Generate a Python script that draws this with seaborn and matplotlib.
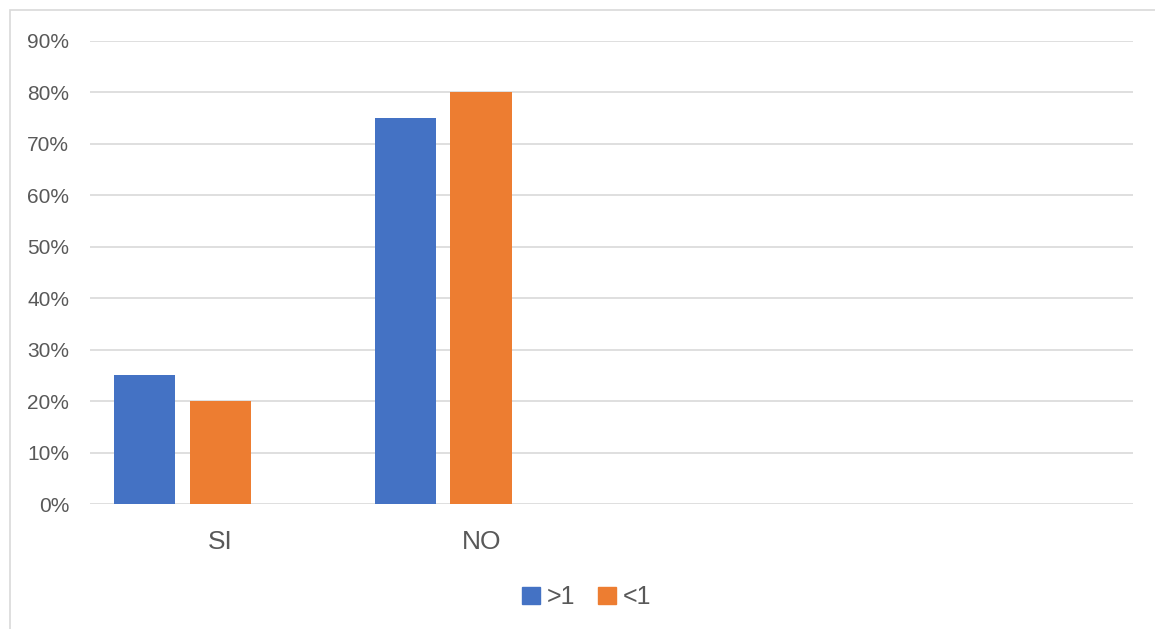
import pandas as pd
import matplotlib
matplotlib.use("Agg")
import matplotlib.pyplot as plt
import matplotlib.patches as mpatches
from matplotlib.ticker import PercentFormatter
import seaborn as sns

# Chart data
categories = ["SI", "NO", " ", "  "]
series = [">1", "<1", "_blank"]
values_gt1 = [0.25, 0.75]
values_lt1 = [0.20, 0.80]
colors = ["#4472C4", "#ED7D31", "#A5A5A5"]
y_ticks = [0, 0.1, 0.2, 0.3, 0.4, 0.5, 0.6, 0.7, 0.8, 0.9]

# Long-form table for seaborn
df = pd.DataFrame({
    "category": ["SI", "NO"] * 2,
    "series": [">1"] * 2 + ["<1"] * 2,
    "value": values_gt1 + values_lt1,
})

sns.set_style("white")
plt.rcParams["font.family"] = ["Liberation Sans", "DejaVu Sans"]

fig = plt.figure(figsize=(11.55, 6.29), dpi=100)
ax = fig.add_axes([90 / 1155, 1 - 504 / 629, (1133 - 90) / 1155, (504 - 41) / 629])

sns.barplot(data=df, x="category", y="value", hue="series",
            order=categories, hue_order=series, palette=colors,
            width=0.87, gap=0.19, saturation=1, legend=False,
            linewidth=0, ax=ax)

ax.set_ylim(0, 0.9)
ax.set_xlim(-0.5, len(categories) - 0.5)
ax.set_yticks(y_ticks)
ax.yaxis.set_major_formatter(PercentFormatter(1.0, decimals=0))
ax.grid(axis="y", color="#d9d9d9", linewidth=1.2)
ax.set_axisbelow(True)
for s in ax.spines.values():
    s.set_visible(False)
ax.tick_params(axis="y", length=0, pad=15, labelsize=15, labelcolor="#595959")
ax.tick_params(axis="x", length=0, pad=19, labelsize=19, labelcolor="#595959")
ax.set_xlabel("")
ax.set_ylabel("")

# Legend at the bottom
handles = [mpatches.Patch(color=colors[0], label=">1"),
           mpatches.Patch(color=colors[1], label="<1")]
fig.legend(handles=handles, loc="center", bbox_to_anchor=(587 / 1155, 1 - 597 / 629),
           ncol=2, frameon=False, fontsize=18, labelcolor="#595959",
           handlelength=0.7, handleheight=0.7, handletextpad=0.3, columnspacing=0.9)

# Outer chart border (only left and top visible)
fig.add_artist(mpatches.Rectangle((10 / 1155, -0.1), 1.5, 1.1 - 10 / 629,
                                  fill=False, edgecolor="#d9d9d9", linewidth=1.2,
                                  transform=fig.transFigure))

fig.savefig("out.png", dpi=100, facecolor="white")
